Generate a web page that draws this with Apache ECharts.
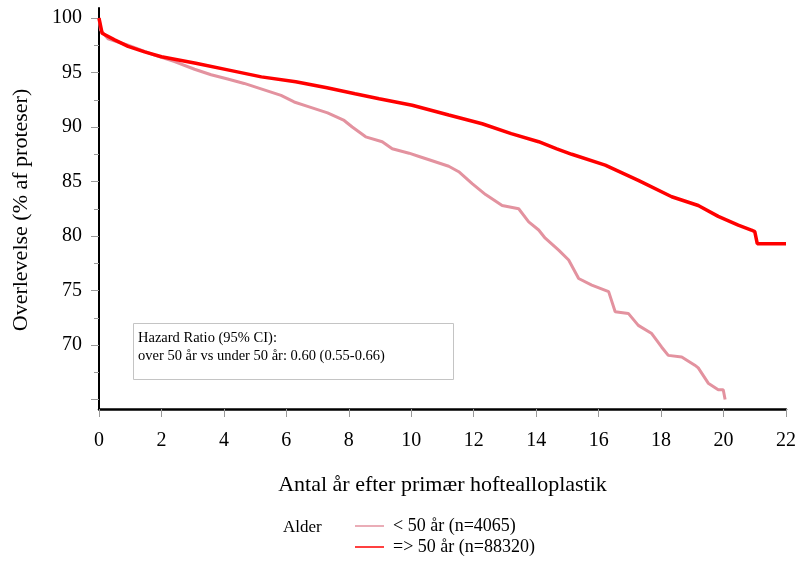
<!DOCTYPE html>
<html>
<head>
<meta charset="utf-8">
<script src="https://cdn.jsdelivr.net/npm/echarts@6/dist/echarts.min.js"></script>
<style>
html,body{margin:0;padding:0;background:#fff;}
#chart{width:799px;height:562px;}
</style>
</head>
<body>
<div id="chart"></div>
<script>
// ---- Data ----
const seriesNames = ['< 50 år (n=4065)', '=> 50 år (n=88320)'];

const under50X = [0, 0.05, 0.29, 0.93, 1.78, 2.42, 3.06, 3.59, 4.12, 4.65, 5.19, 5.83, 6.25, 6.68, 7.32, 7.85, 8.11, 8.54, 9.07, 9.39, 9.93, 10.25, 10.57, 11.2, 11.52, 11.95, 12.38, 12.91, 13.44, 13.76, 14.08, 14.29, 14.72, 15.04, 15.36, 15.78, 16.32, 16.53, 16.95, 17.27, 17.7, 18.02, 18.23, 18.66, 19.08, 19.19, 19.51, 19.83, 19.99, 20.05];
const under50Y = [100, 98.9, 98.1, 97.5, 96.6, 96.0, 95.3, 94.8, 94.4, 94.0, 93.5, 92.9, 92.3, 91.9, 91.3, 90.6, 90.0, 89.1, 88.65, 88.0, 87.6, 87.3, 87.0, 86.4, 85.9, 84.8, 83.8, 82.8, 82.5, 81.3, 80.55, 79.8, 78.7, 77.8, 76.1, 75.5, 74.9, 73.05, 72.9, 71.8, 71.05, 69.8, 69.05, 68.9, 68.15, 67.9, 66.5, 65.9, 65.9, 65.0];

const over50X = [0, 0.1, 0.5, 0.93, 1.46, 2.0, 3.1, 4.2, 5.2, 6.3, 7.3, 8.2, 8.97, 10.03, 11.2, 12.27, 13.2, 14.08, 14.66, 15.14, 16.21, 17.27, 18.34, 19.19, 19.83, 20.47, 20.89, 21.0, 21.08, 22.0];
const over50Y = [100, 98.6, 98.0, 97.4, 96.9, 96.45, 95.85, 95.2, 94.6, 94.15, 93.6, 93.05, 92.6, 92.0, 91.1, 90.3, 89.4, 88.65, 88.0, 87.5, 86.5, 85.1, 83.6, 82.8, 81.8, 81.0, 80.55, 80.4, 79.3, 79.3];

const xTicks = [0, 2, 4, 6, 8, 10, 12, 14, 16, 18, 20, 22];
const yLabelValues = [70, 75, 80, 85, 90, 95, 100];
const yMajorTicks = [65, 70, 75, 80, 85, 90, 95, 100];
const yMinorTicks = [67.5, 72.5, 77.5, 82.5, 87.5, 92.5, 97.5];

const xTitle = 'Antal år efter primær hoftealloplastik';
const yTitle = 'Overlevelse (% af proteser)';
const legendTitle = 'Alder';
const hrLines = ['Hazard Ratio (95% CI):', 'over 50 år vs under 50 år: 0.60 (0.55-0.66)'];

const colors = ['#e3929f', '#ff0000'];
const FONT = '"Liberation Serif", "Times New Roman", serif';

function pairs(xs, ys) { return xs.map((x, i) => [x, ys[i]]); }

const chart = echarts.init(document.getElementById('chart'), null, {renderer: 'canvas'});
const yMin = 64.13, yMax = 100.92;

function legendFor(name, top) {
  return {
    orient: 'horizontal', left: 355, top: top, padding: 0,
    itemWidth: 29, itemHeight: 1.5, icon: 'rect',
    data: [name],
    textStyle: {fontFamily: FONT, fontSize: 18, color: '#000', padding: [0, 0, 0, 4]}
  };
}

chart.setOption({
  animation: false,
  backgroundColor: '#ffffff',
  grid: {left: 99, right: 12, top: 8, bottom: 153},
  xAxis: {
    type: 'value', min: 0, max: 22, interval: 2,
    name: xTitle, nameLocation: 'middle', nameGap: 65,
    nameTextStyle: {fontFamily: FONT, fontSize: 22, color: '#000'},
    axisLine: {lineStyle: {color: '#000', width: 2.5}},
    axisTick: {show: true, length: 8, lineStyle: {color: '#999', width: 1}, customValues: xTicks},
    axisLabel: {fontFamily: FONT, fontSize: 20, color: '#000', margin: 22, customValues: xTicks},
    splitLine: {show: false}
  },
  yAxis: [{
    type: 'value', min: yMin, max: yMax,
    axisLine: {show: true, lineStyle: {color: '#000', width: 2}},
    axisTick: {show: true, length: 8, lineStyle: {color: '#999', width: 1}, customValues: yMajorTicks},
    axisLabel: {fontFamily: FONT, fontSize: 20, color: '#000', margin: 17, customValues: yLabelValues},
    splitLine: {show: false}
  }, {
    type: 'value', min: yMin, max: yMax, position: 'left',
    axisLine: {show: false},
    axisTick: {show: true, length: 5, lineStyle: {color: '#999', width: 1}, customValues: yMinorTicks},
    axisLabel: {show: false},
    splitLine: {show: false}
  }],
  legend: [legendFor(seriesNames[0], 517), legendFor(seriesNames[1], 538)],
  graphic: [
    {type: 'text', left: 283, top: 519, style: {text: legendTitle, font: '17px ' + FONT, fill: '#000'}},
    {type: 'text', x: 21, y: 210, rotation: Math.PI / 2,
     style: {text: yTitle, font: '22px ' + FONT, fill: '#000', align: 'center', verticalAlign: 'middle'}},
    {type: 'rect', shape: {x: 133.5, y: 323.5, width: 320, height: 56},
     style: {fill: '#fff', stroke: '#c4c4c4', lineWidth: 1}, z: 10},
    {type: 'text', x: 138, y: 338, z: 11,
     style: {text: hrLines[0], font: '14.5px ' + FONT, fill: '#000', verticalAlign: 'middle'}},
    {type: 'text', x: 138, y: 356, z: 11,
     style: {text: hrLines[1], font: '14.5px ' + FONT, fill: '#000', verticalAlign: 'middle'}}
  ],
  series: [{
    name: seriesNames[0], type: 'line', symbol: 'none',
    data: pairs(under50X, under50Y),
    lineStyle: {color: colors[0], width: 3}, itemStyle: {color: colors[0]}, z: 2
  }, {
    name: seriesNames[1], type: 'line', symbol: 'none',
    data: pairs(over50X, over50Y),
    lineStyle: {color: colors[1], width: 3.5}, itemStyle: {color: colors[1]}, z: 3
  }]
});
</script>
</body>
</html>
